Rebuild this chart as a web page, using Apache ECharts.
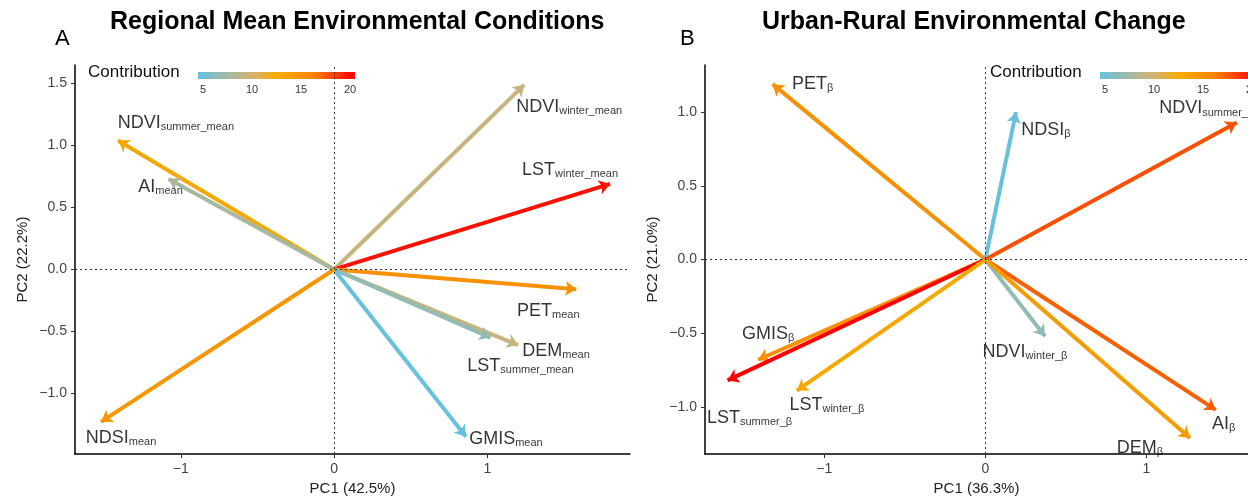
<!DOCTYPE html>
<html>
<head>
<meta charset="utf-8">
<script src="https://cdn.jsdelivr.net/npm/echarts@6/dist/echarts.min.js"></script>
<style>html,body{margin:0;padding:0;background:#fff}#main{width:1248px;height:501px}</style>
</head>
<body>
<div id="main"></div>
<script>
// Panel A: regional mean
var aNames = ['NDVI|summer_mean', 'AI|mean', 'NDVI|winter_mean', 'LST|winter_mean', 'PET|mean', 'DEM|mean', 'LST|summer_mean', 'GMIS|mean', 'NDSI|mean'];
var aPC1 = [-1.41, -1.08, 1.24, 1.80, 1.58, 1.20, 1.02, 0.86, -1.52];
var aPC2 = [1.04, 0.73, 1.49, 0.69, -0.16, -0.61, -0.55, -1.35, -1.23];
var aContrib = [13, 8, 9.5, 19.5, 15, 9.5, 7, 5, 14.5];
var aLabelOffset = [[58, -18], [-8, 8], [45, 22], [-40, -14], [-28, 22], [38, 6], [30, 28], [40, 2], [20, 16]];
var aXTicks = [-1, 0, 1];
var aYTicks = [-1.0, -0.5, 0.0, 0.5, 1.0, 1.5];

// Panel B: urban-rural change
var bNames = ['PET|β', 'NDSI|β', 'NDVI|summer_β', 'GMIS|β', 'LST|summer_β', 'LST|winter_β', 'NDVI|winter_β', 'AI|β', 'DEM|β'];
var bPC1 = [-1.32, 0.19, 1.56, -1.41, -1.60, -1.17, 0.37, 1.43, 1.27];
var bPC2 = [1.19, 1.00, 0.93, -0.68, -0.82, -0.89, -0.52, -1.02, -1.21];
var bContrib = [15, 5, 17.5, 15, 20, 13, 7, 17, 14];
var bLabelOffset = [[40, 0], [30, 18], [-30, -14], [10, -26], [22, 38], [30, 14], [-20, 16], [8, 14], [-50, 10]];
var bXTicks = [-1, 0, 1];
var bYTicks = [-1.0, -0.5, 0.0, 0.5, 1.0];

var cbTicks = [5, 10, 15, 20];
var cbMin = 5, cbMax = 20;
var stops = [[0, [103, 193, 222]], [0.35, [214, 178, 110]], [0.5, [245, 174, 0]], [0.72, [250, 135, 0]], [1, [255, 0, 0]]];

function colorOf(v) {
  var t = Math.max(0, Math.min(1, (v - cbMin) / (cbMax - cbMin)));
  for (var i = 1; i < stops.length; i++) {
    if (t <= stops[i][0]) {
      var a = stops[i - 1], b = stops[i];
      var f = (t - a[0]) / (b[0] - a[0]);
      var c = a[1].map(function (x, k) { return Math.round(x + (b[1][k] - x) * f); });
      return 'rgb(' + c.join(',') + ')';
    }
  }
  return 'rgb(255,0,0)';
}

function labelText(n) {
  var p = n.split('|');
  return '{m|' + p[0] + '}{s|' + p[1] + '}';
}

function arrows(pc1, pc2, con, idx) {
  return {
    type: 'lines', coordinateSystem: 'cartesian2d', xAxisIndex: idx, yAxisIndex: idx,
    symbol: ['none', 'arrow'], symbolSize: 11, z: 3,
    data: pc1.map(function (x, i) {
      return { coords: [[0, 0], [x, pc2[i]]], lineStyle: { color: colorOf(con[i]), width: 4, opacity: 1 } };
    })
  };
}

function labels(names, pc1, pc2, offs, idx) {
  return {
    type: 'scatter', xAxisIndex: idx, yAxisIndex: idx, symbolSize: 0, z: 4,
    data: pc1.map(function (x, i) {
      return {
        value: [x, pc2[i]],
        label: { show: true, position: 'inside', offset: offs[i], formatter: labelText(names[i]),
          rich: { m: { fontSize: 18, color: '#000' }, s: { fontSize: 11, color: '#000', padding: [8, 0, 0, 0] } } }
      };
    })
  };
}

function zeroLines(idx) {
  return {
    type: 'line', xAxisIndex: idx, yAxisIndex: idx, data: [], silent: true,
    markLine: { symbol: 'none', silent: true, label: { show: false },
      lineStyle: { type: [2, 3], color: '#333', width: 1 },
      data: [{ xAxis: 0 }, { yAxis: 0 }] }
  };
}

function axisBase(name, min, max, ticks, digits, gap) {
  return {
    name: name, nameLocation: 'middle', nameGap: gap, min: min, max: max,
    nameTextStyle: { fontSize: 15, color: '#222' },
    axisLine: { onZero: false, lineStyle: { color: '#000', width: 1.5 } },
    axisTick: { show: true, length: 4, customValues: ticks, lineStyle: { color: '#333' } },
    axisLabel: { fontSize: 14, color: '#444', customValues: ticks,
      formatter: function (v) { return (v < 0 ? '\u2212' : '') + Math.abs(v).toFixed(digits); } },
    splitLine: { show: false }
  };
}

function colorbar(x0) {
  var w = 157, els = [];
  els.push({ type: 'text', left: x0 - 110, top: 64, style: { text: 'Contribution', fontSize: 17, fill: '#111' } });
  els.push({ type: 'rect', shape: { x: x0, y: 72, width: w, height: 7 },
    style: { fill: new echarts.graphic.LinearGradient(0, 0, 1, 0, stops.map(function (s) { return { offset: s[0], color: 'rgb(' + s[1].join(',') + ')' }; })) } });
  cbTicks.forEach(function (t) {
    var x = x0 + 5 + (t - cbMin) / (cbMax - cbMin) * (w - 10);
    els.push({ type: 'text', x: x, y: 84, style: { text: String(t), fontSize: 11, fill: '#333', align: 'center' } });
  });
  return els;
}

var chart = echarts.init(document.getElementById('main'));
var option = {
  animation: false,
  textStyle: { fontFamily: 'Liberation Sans, Arial, sans-serif' },
  grid: [
    { left: 75, right: 618, top: 65, bottom: 46 },
    { left: 705, right: 0, top: 65, bottom: 46 }
  ],
  xAxis: [
    Object.assign(axisBase('PC1 (42.5%)', -1.69, 1.93, aXTicks, 0, 22), { gridIndex: 0 }),
    Object.assign(axisBase('PC1 (36.3%)', -1.74, 1.63, bXTicks, 0, 22), { gridIndex: 1 })
  ],
  yAxis: [
    Object.assign(axisBase('PC2 (22.2%)', -1.49, 1.65, aYTicks, 1, 45), { gridIndex: 0 }),
    Object.assign(axisBase('PC2 (21.0%)', -1.32, 1.32, bYTicks, 1, 45), { gridIndex: 1 })
  ],
  series: [
    zeroLines(0), zeroLines(1),
    arrows(aPC1, aPC2, aContrib, 0), arrows(bPC1, bPC2, bContrib, 1),
    labels(aNames, aPC1, aPC2, aLabelOffset, 0), labels(bNames, bPC1, bPC2, bLabelOffset, 1)
  ],
  graphic: [
    { type: 'text', left: 110, top: 10, style: { text: 'Regional Mean Environmental Conditions', fontSize: 25, fontWeight: 'bold', fill: '#000' } },
    { type: 'text', left: 762, top: 10, style: { text: 'Urban-Rural Environmental Change', fontSize: 25, fontWeight: 'bold', fill: '#000' } },
    { type: 'text', left: 55, top: 28, style: { text: 'A', fontSize: 22, fill: '#000' } },
    { type: 'text', left: 680, top: 28, style: { text: 'B', fontSize: 22, fill: '#000' } }
  ].concat(colorbar(198), colorbar(1100))
};
chart.setOption(option);
</script>
</body>
</html>
